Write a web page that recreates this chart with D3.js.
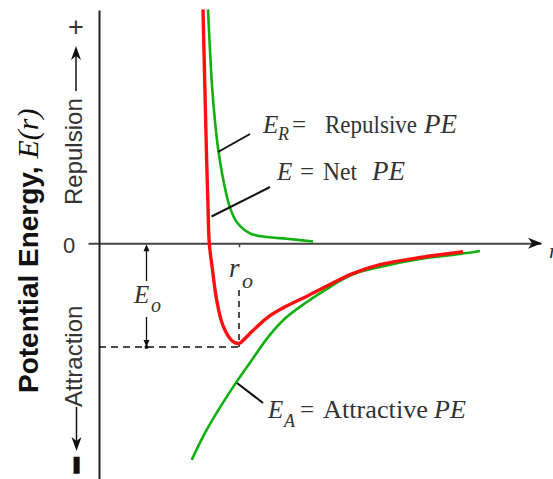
<!DOCTYPE html>
<html>
<head>
<meta charset="utf-8">
<script src="https://cdn.jsdelivr.net/npm/d3@7"></script>
<style>
  body { margin: 0; background: #fff; }
</style>
</head>
<body>
<div id="chart"></div>
<script>
// values: r in arbitrary units (100px each), E in units of |E0|
const netR = [1.04, 1.05, 1.062, 1.077, 1.09, 1.103, 1.135, 1.177, 1.24, 1.327, 1.40, 1.46, 1.527, 1.69, 1.86, 2.06, 2.26, 2.53, 2.81, 3.21, 3.64];
const netE = [2.3, 1.88, 1.40, 0.80, 0.36, 0.0, -0.26, -0.56, -0.81, -0.955, -0.985, -0.935, -0.87, -0.725, -0.625, -0.53, -0.43, -0.30, -0.21, -0.14, -0.083];

const repR = [1.09, 1.11, 1.13, 1.16, 1.19, 1.25, 1.31, 1.377, 1.51, 1.677, 1.877, 2.14];
const repE = [2.3, 1.9, 1.55, 1.2, 0.94, 0.59, 0.35, 0.21, 0.098, 0.062, 0.045, 0.018];

const attR = [0.927, 1.06, 1.193, 1.377, 1.527, 1.693, 1.86, 2.06, 2.26, 2.527, 2.81, 3.21, 3.61, 3.81];
const attE = [-2.13, -1.865, -1.64, -1.36, -1.15, -0.92, -0.74, -0.59, -0.46, -0.31, -0.233, -0.155, -0.105, -0.076];

const r0 = 1.40;
const e0 = -1.02;

(function() {
    const width = 553, height = 479
    const serif = "'Liberation Serif', 'Times New Roman', serif"
    const sans = "'Liberation Sans', Arial, Helvetica, sans-serif"
    const ink = "#333"
    const red = "#ff1010"
    const green = "#10b010"

    const svg = d3.select("#chart")
      .append("svg")
        .attr("width", width)
        .attr("height", height)

    var x = d3.scaleLinear().domain([-0.11, 4.42]).range([88, 541])
    var y = d3.scaleLinear().domain([-2.3, 2.3]).range([477.2, 9.4])

    // x axis with the single r0 tick
    const xAxis = svg.append("g")
      .attr("transform", "translate(0," + y(0) + ")")
      .call(d3.axisBottom(x).tickValues([r0]).tickFormat("").tickSizeInner(4).tickSizeOuter(0))
    xAxis.select(".domain").attr("stroke", "#444").attr("stroke-width", 2)
    xAxis.selectAll(".tick line").attr("stroke", "#444").attr("stroke-width", 1.5)
    svg.append("path")
      .attr("d", "M" + (x.range()[1] + 1) + "," + y(0) + "l-14,-5.5l4,5.5l-4,5.5z")
      .attr("fill", "#111")

    // y axis, plain line
    var yAxisScale = d3.scaleLinear().domain([y.invert(479), y.invert(10)]).range([479, 10])
    const yAxis = svg.append("g")
      .attr("transform", "translate(" + x(0) + ",0)")
      .call(d3.axisLeft(yAxisScale).tickValues([]).tickSizeOuter(0))
    yAxis.select(".domain").attr("stroke", "#222").attr("stroke-width", 2)

    // dashed guides to the minimum
    svg.append("line")
      .attr("x1", x(0)).attr("x2", x(r0))
      .attr("y1", y(e0)).attr("y2", y(e0))
      .attr("stroke", "#111").attr("stroke-width", 1.5).attr("stroke-dasharray", "7,5")
    svg.append("line")
      .attr("x1", x(r0)).attr("x2", x(r0))
      .attr("y1", 290).attr("y2", y(e0))
      .attr("stroke", "#111").attr("stroke-width", 1.5).attr("stroke-dasharray", "6,5")

    // E0 double arrow
    const ex = 146.5
    svg.append("line").attr("x1", ex).attr("x2", ex).attr("y1", y(0) + 4).attr("y2", 281)
      .attr("stroke", "#111").attr("stroke-width", 1.3)
    svg.append("line").attr("x1", ex).attr("x2", ex).attr("y1", 317).attr("y2", y(e0) - 4)
      .attr("stroke", "#111").attr("stroke-width", 1.3)
    svg.append("path").attr("d", "M" + ex + "," + (y(0) + 1) + "l-3,7h6z").attr("fill", "#111")
    svg.append("path").attr("d", "M" + ex + "," + y(e0) + "l-3,-7h6z").attr("fill", "#111")
    svg.append("circle").attr("cx", ex).attr("cy", y(e0)).attr("r", 2).attr("fill", "#111")

    // curves
    const line = d3.line()
      .x(function(d) { return x(d[0]) })
      .y(function(d) { return y(d[1]) })
      .curve(d3.curveCatmullRom.alpha(0.5))

    svg.append("path")
      .datum(d3.zip(repR, repE))
      .attr("fill", "none").attr("stroke", green).attr("stroke-width", 2.6)
      .attr("d", line)
    svg.append("path")
      .datum(d3.zip(attR, attE))
      .attr("fill", "none").attr("stroke", green).attr("stroke-width", 2.6)
      .attr("d", line)
    svg.append("path")
      .datum(d3.zip(netR, netE))
      .attr("fill", "none").attr("stroke", red).attr("stroke-width", 3.4)
      .attr("d", line)

    // leader lines
    const leaders = [[218, 152, 250, 134], [211.5, 216.5, 270, 187], [237, 383, 263, 403]]
    svg.selectAll(".leader").data(leaders).enter().append("line")
      .attr("x1", d => d[0]).attr("y1", d => d[1])
      .attr("x2", d => d[2]).attr("y2", d => d[3])
      .attr("stroke", "#111").attr("stroke-width", 2)

    function put(px, py, str, opts) {
        opts = opts || {}
        const t = svg.append("text")
          .attr("x", px).attr("y", py)
          .attr("font-family", opts.family || serif)
          .attr("font-size", opts.size || 25)
          .attr("font-style", opts.italic ? "italic" : "normal")
          .attr("fill", opts.color || ink)
          .text(str)
        if (opts.len) t.attr("textLength", opts.len).attr("lengthAdjust", "spacingAndGlyphs")
        return t
    }

    // E_R = Repulsive PE
    put(263, 133, "E", {italic: true})
    put(278, 140, "R", {italic: true, size: 18})
    put(292, 133, "=")
    put(325, 133, "Repulsive", {len: 92})
    put(424, 133, "PE", {italic: true, size: 27})

    // E = Net PE
    put(277, 180, "E", {italic: true})
    put(300, 180, "=")
    put(323, 180, "Net", {len: 34})
    put(372, 180, "PE", {italic: true, size: 27})

    // E_A = Attractive PE
    put(268, 418, "E", {italic: true})
    put(284, 427, "A", {italic: true, size: 18})
    put(300, 418, "=")
    put(323, 418, "Attractive", {len: 105})
    put(434, 418, "PE", {italic: true, size: 26})

    // r_o and E_o
    put(229, 277, "r", {italic: true, size: 27})
    put(242, 288, "o", {italic: true, size: 22})
    put(134, 303, "E", {italic: true})
    put(151, 312, "o", {italic: true, size: 20})

    // cut-off axis label at the right edge
    put(549, 258, "r", {italic: true, size: 22})

    // left side: 0, + and −, repulsion / attraction
    put(69, 253, "0", {family: sans, size: 22}).attr("text-anchor", "middle")
    put(76, 35.5, "+", {family: sans, size: 27}).attr("text-anchor", "middle")

    svg.append("text")
      .attr("transform", "translate(85.5,465) rotate(-90)")
      .attr("text-anchor", "middle")
      .attr("font-family", sans).attr("font-size", 28).attr("font-weight", "bold")
      .attr("fill", "#111").attr("stroke", "#111").attr("stroke-width", 3)
      .text("\u2212")

    svg.append("text")
      .attr("transform", "translate(82,205) rotate(-90)")
      .attr("font-family", sans).attr("font-size", 24).attr("fill", ink)
      .text("Repulsion")
    svg.append("text")
      .attr("transform", "translate(82,407) rotate(-90)")
      .attr("font-family", sans).attr("font-size", 24).attr("fill", ink)
      .text("Attraction")

    // up / down arrows
    svg.append("line").attr("x1", 76).attr("x2", 76).attr("y1", 91).attr("y2", 56)
      .attr("stroke", "#111").attr("stroke-width", 1.5)
    svg.append("path").attr("d", "M76,46l-5,14l5,-4l5,4z").attr("fill", "#111")
    svg.append("line").attr("x1", 76.5).attr("x2", 76.5).attr("y1", 407).attr("y2", 441)
      .attr("stroke", "#111").attr("stroke-width", 1.5)
    svg.append("path").attr("d", "M76.5,451l-5,-14l5,4l5,-4z").attr("fill", "#111")

    // axis title
    svg.append("text")
      .attr("transform", "translate(37.5,393) rotate(-90)")
      .attr("font-family", sans).attr("font-size", 28).attr("font-weight", "bold")
      .attr("fill", "#111")
      .call(t => t.append("tspan").text("Potential Energy, "))
      .call(t => t.append("tspan")
          .attr("font-family", serif).attr("font-style", "italic").attr("font-weight", "normal")
          .attr("font-size", 30)
          .text("E(r)"))
})()
</script>
</body>
</html>
